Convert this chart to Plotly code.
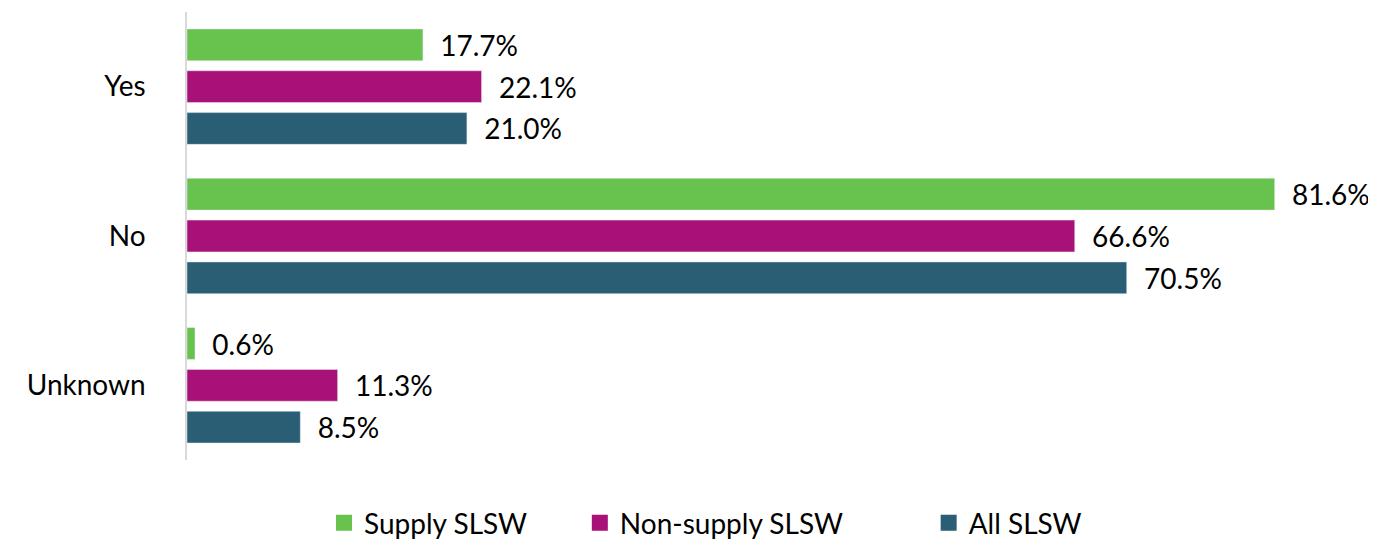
import plotly.graph_objects as go

categories = ["Yes", "No", "Unknown"]
supply = [17.7, 81.6, 0.6]
non_supply = [22.1, 66.6, 11.3]
all_slsw = [21.0, 70.5, 8.5]

series = [
    ("Supply SLSW", supply, "#68c24e", "legend", 0.231),
    ("Non-supply SLSW", non_supply, "#a81178", "legend2", 0.418),
    ("All SLSW", all_slsw, "#2a5e75", "legend3", 0.673),
]

fig = go.Figure()

for name, values, color, leg, _ in series:
    fig.add_trace(
        go.Bar(
            y=categories,
            x=values,
            name=name,
            orientation="h",
            marker=dict(color=color),
            texttemplate="  %{x:.1f}%",
            textposition="outside",
            constraintext="none",
            textfont=dict(color="black", size=28),
            cliponaxis=False,
            showlegend=False,
            legendgroup=name,
        )
    )
    # legend-only entry with a bigger square swatch
    fig.add_trace(
        go.Scatter(
            x=[None],
            y=[None],
            mode="markers",
            name=name,
            marker=dict(symbol="square", size=22, color=color),
            legend=leg,
            legendgroup=name,
        )
    )

legend_style = dict(orientation="h", xref="container", yref="container",
                    y=0.03, xanchor="left", yanchor="middle",
                    font=dict(size=28), itemwidth=30,
                    bgcolor="rgba(0,0,0,0)")

# page body adds an 8px offset, so the figure is 8px smaller each way
fig.update_layout(
    width=1368,
    height=531,
    barmode="group",
    bargap=0.16,
    bargroupgap=0.24,
    paper_bgcolor="white",
    plot_bgcolor="white",
    font=dict(family="Lato, Open Sans, sans-serif", size=28, color="black"),
    margin=dict(l=179, r=16, t=4, b=79, autoexpand=False),
    xaxis=dict(range=[0, 88], showgrid=False, zeroline=False,
               showticklabels=False, showline=False),
    yaxis=dict(autorange="reversed", showline=True, linecolor="#d9d9d9",
               linewidth=1.5, ticks="", ticklabelstandoff=34, showgrid=False,
               automargin=False),
    legend=dict(legend_style, x=series[0][4]),
    legend2=dict(legend_style, x=series[1][4]),
    legend3=dict(legend_style, x=series[2][4]),
    showlegend=True,
)

fig.write_html("out.html")
